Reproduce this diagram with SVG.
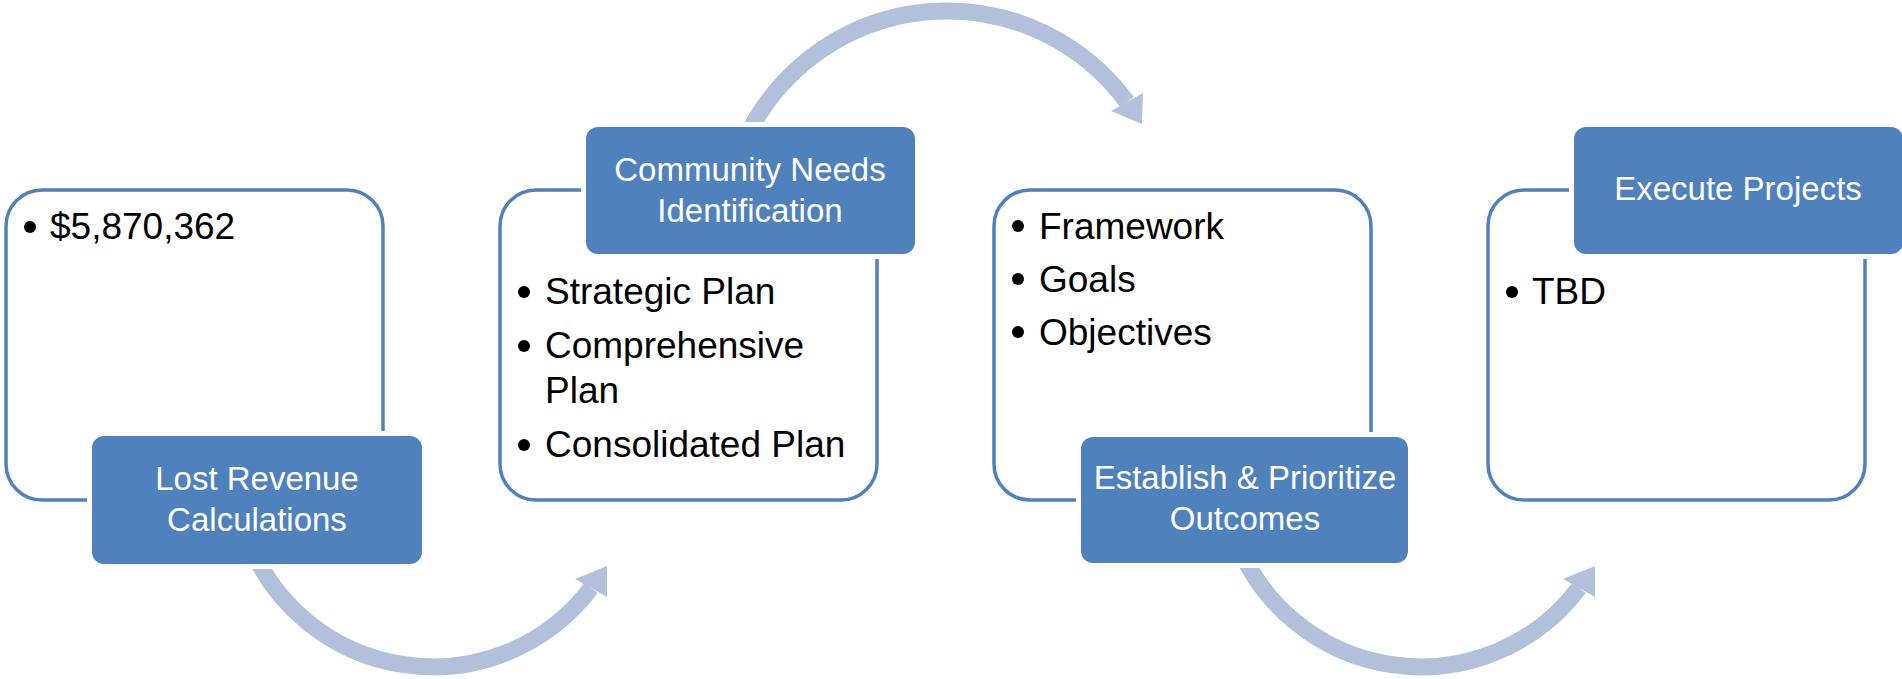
<svg xmlns="http://www.w3.org/2000/svg" width="1902" height="679" viewBox="0 0 1902 679">
<style>
.box{fill:#FFFFFF;stroke:#4F81BD;stroke-width:3.5}
.halo{fill:#FFFFFF}
.lbl{fill:#4F81BD}
.lt{font-family:"Liberation Sans",Arial,sans-serif;font-size:33px;fill:#FFFFFF;text-anchor:middle}
.bt{font-family:"Liberation Sans",Arial,sans-serif;font-size:37px;fill:#000000}
.dot{fill:#000000}
.arc{fill:none;stroke:#B2C1DB;stroke-width:17}
.head{fill:#B2C1DB}
</style>
<rect width="1902" height="679" fill="#FFFFFF"/>
<g id="connectors">
  <path class="arc" d="M 247 537 A 198 198 0 0 0 591 588"/>
  <polygon class="head" points="575,579 607,566 607,597"/>
  <path class="arc" d="M 745 140 A 223 223 0 0 1 1127 102"/>
  <polygon class="head" points="1111,111 1143,93 1142,124"/>
  <path class="arc" d="M 1235 537 A 198 198 0 0 0 1579 588"/>
  <polygon class="head" points="1563,579 1595,566 1595,597"/>
</g>
<g id="node1">
  <rect class="box" x="6" y="190" width="377" height="310" rx="36"/>
  <circle class="dot" cx="30" cy="227" r="6"/>
  <text class="bt" x="50" y="239">$5,870,362</text>
  <rect class="halo" x="87" y="431" width="340" height="138" rx="16"/>
  <rect class="lbl" x="92" y="436" width="330" height="128" rx="12"/>
  <text class="lt" x="257" y="490">Lost Revenue</text>
  <text class="lt" x="257" y="531">Calculations</text>
</g>
<g id="node2">
  <rect class="box" x="500" y="190" width="377" height="310" rx="36"/>
  <circle class="dot" cx="524" cy="292" r="6"/>
  <text class="bt" x="545" y="304">Strategic Plan</text>
  <circle class="dot" cx="524" cy="346" r="6"/>
  <text class="bt" x="545" y="358">Comprehensive</text>
  <text class="bt" x="545" y="403">Plan</text>
  <circle class="dot" cx="524" cy="445" r="6"/>
  <text class="bt" x="545" y="457">Consolidated Plan</text>
  <rect class="halo" x="581" y="122" width="339" height="137" rx="16"/>
  <rect class="lbl" x="586" y="127" width="329" height="127" rx="12"/>
  <text class="lt" x="750" y="181">Community Needs</text>
  <text class="lt" x="750" y="222">Identification</text>
</g>
<g id="node3">
  <rect class="box" x="994" y="190" width="377" height="310" rx="36"/>
  <circle class="dot" cx="1018" cy="226" r="6"/>
  <text class="bt" x="1039" y="239">Framework</text>
  <circle class="dot" cx="1018" cy="279" r="6"/>
  <text class="bt" x="1039" y="292">Goals</text>
  <circle class="dot" cx="1018" cy="332" r="6"/>
  <text class="bt" x="1039" y="345">Objectives</text>
  <rect class="halo" x="1076" y="432" width="337" height="136" rx="16"/>
  <rect class="lbl" x="1081" y="437" width="327" height="126" rx="12"/>
  <text class="lt" x="1245" y="489">Establish &amp; Prioritize</text>
  <text class="lt" x="1245" y="530">Outcomes</text>
</g>
<g id="node4">
  <rect class="box" x="1488" y="190" width="377" height="310" rx="36"/>
  <circle class="dot" cx="1512" cy="292" r="6"/>
  <text class="bt" x="1532" y="304">TBD</text>
  <rect class="halo" x="1569" y="122" width="339" height="137" rx="16"/>
  <rect class="lbl" x="1574" y="127" width="329" height="127" rx="12"/>
  <text class="lt" x="1738" y="200">Execute Projects</text>
</g>
</svg>
